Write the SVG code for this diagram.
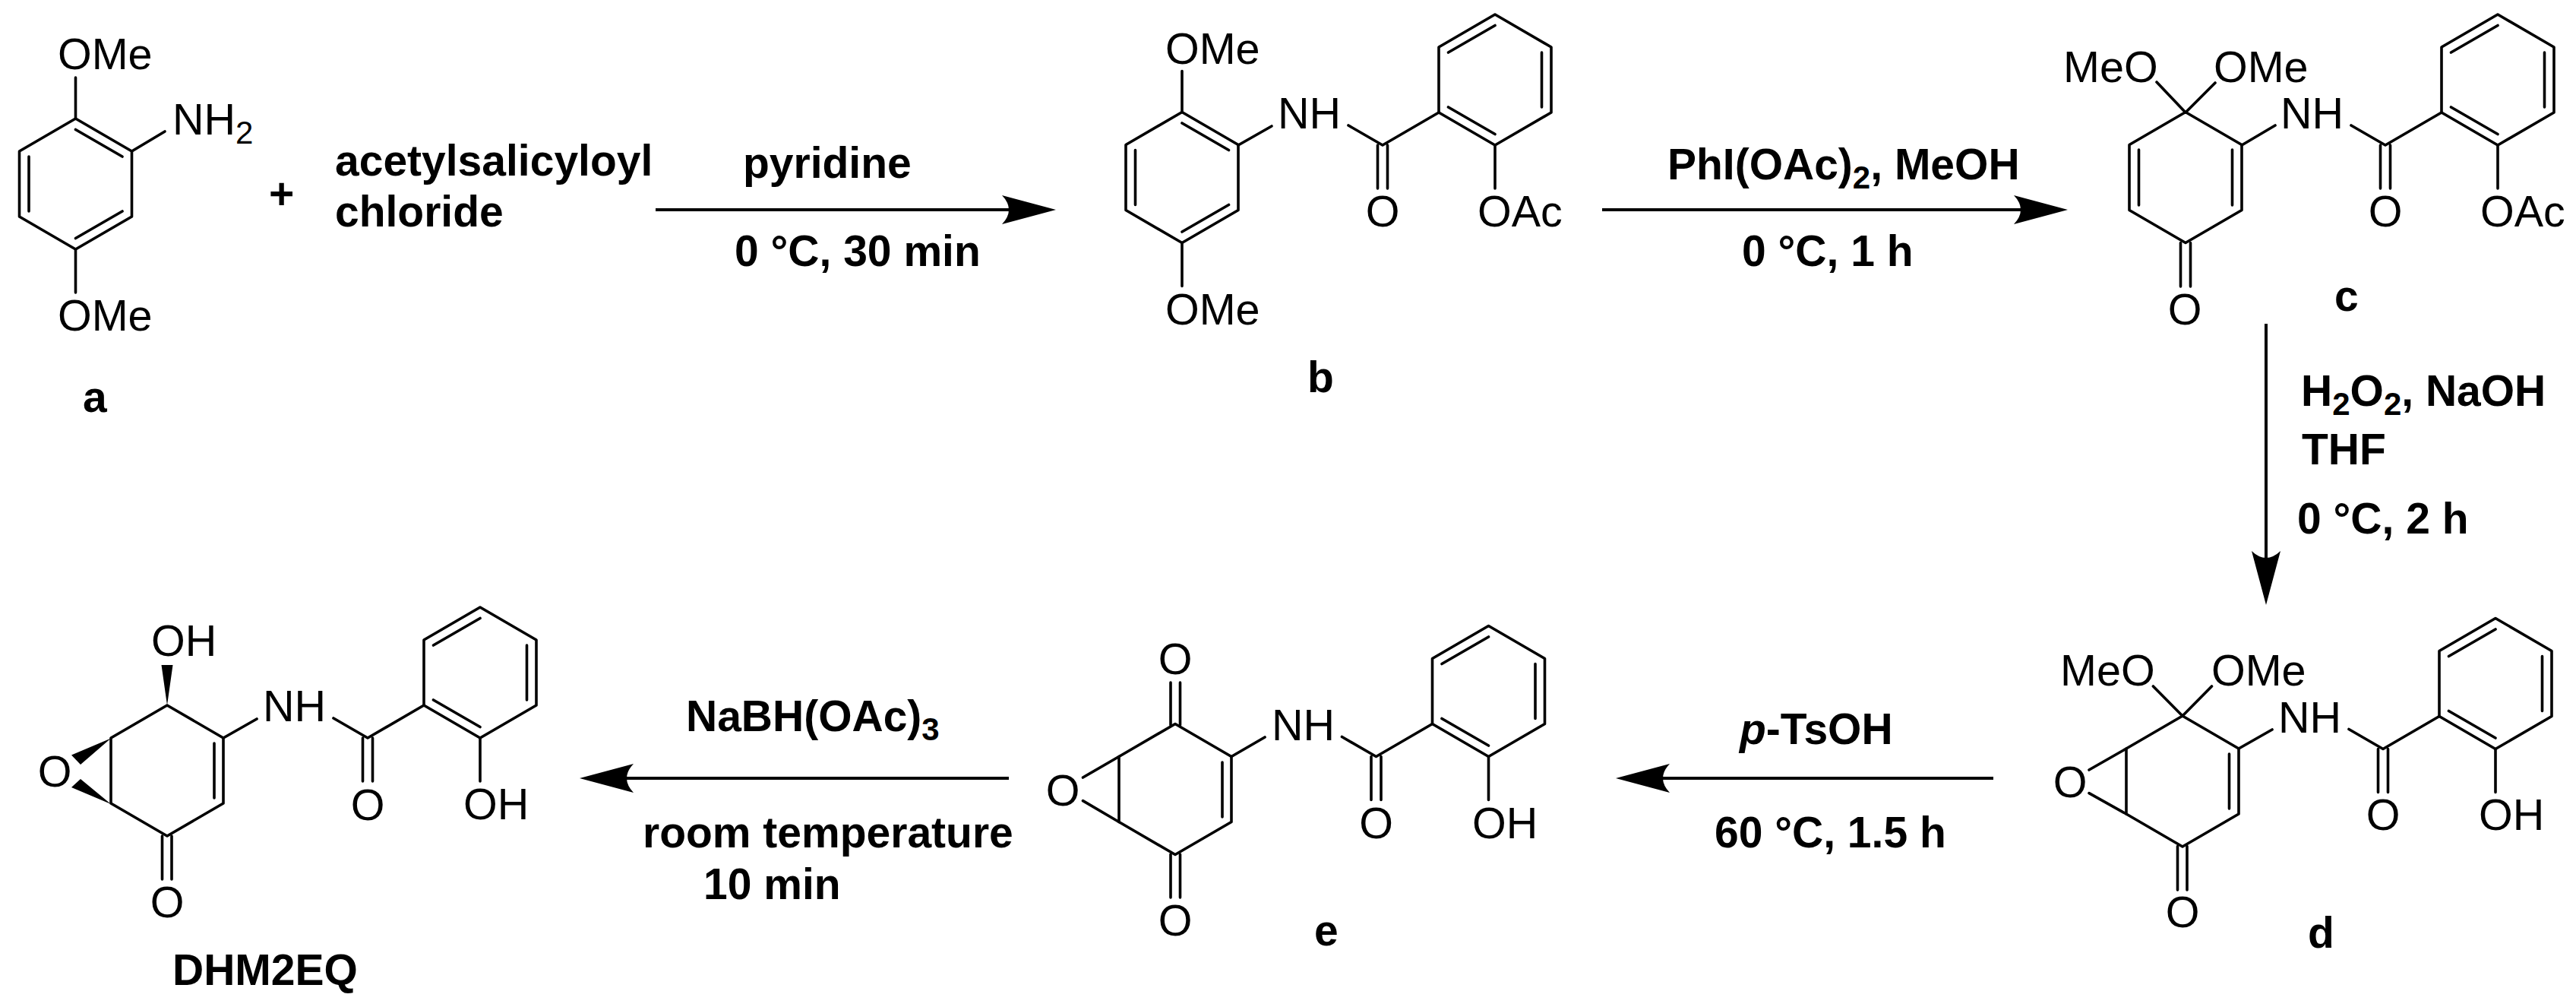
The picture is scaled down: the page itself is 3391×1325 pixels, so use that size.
<svg xmlns="http://www.w3.org/2000/svg" width="3391" height="1325" viewBox="0 0 3391 1325">
<style>
.b{fill:none;stroke:#000;stroke-width:3.6;stroke-linecap:round;stroke-linejoin:round}
.w{fill:#000;stroke:none}
.a{fill:none;stroke:#000;stroke-width:4}
text{font-family:"Liberation Sans",Arial,sans-serif;font-size:57.5px;fill:#000}
.t{font-weight:bold;font-size:57px}
.m{text-anchor:middle}
.s{font-size:42px}
</style>
<defs>
<marker id="head" markerUnits="userSpaceOnUse" markerWidth="72" markerHeight="40" viewBox="0 0 72 40" refX="14" refY="20" orient="auto"><path d="M71,20 L0,1 Q18,20 0,39 Z" fill="#000"/></marker>
<g id="hex"><path class="b" d="M0,-86 L74,-43 L74,43 L0,86 L-74,43 L-74,-43 Z"/></g>
<g id="sal"><use href="#hex"/><path class="b" d="M0,-71.5 L-61.5,-36 M61.5,-36 V36 M-61.5,36 L0,71.5 M-74,43 L-148,86 L-193,60 M-154.5,86 V143 M-141.5,86 V143 M0,86 V143"/></g>
<g id="dmb"><use href="#hex"/><path class="b" d="M0,-71.5 L61.5,-36 M-61.5,-36 V36 M61.5,36 L0,71.5 M0,-86 V-140 M0,86 V143"/></g>
</defs>
<g id="connectors">
<line class="a" x1="863" y1="276" x2="1333" y2="276" marker-end="url(#head)"/>
<line class="a" x1="2109" y1="276" x2="2665" y2="276" marker-end="url(#head)"/>
<line class="a" x1="2983" y1="426" x2="2983" y2="739" marker-end="url(#head)"/>
<line class="a" x1="2624" y1="1024" x2="2184" y2="1024" marker-end="url(#head)"/>
<line class="a" x1="1328" y1="1024" x2="820" y2="1024" marker-end="url(#head)"/>
</g>
<g id="node-a">
<use href="#dmb" x="99.5" y="242"/>
<path class="b" d="M173.5,199 L217,173"/>
<text x="76" y="91">OMe</text>
<text x="76" y="435">OMe</text>
<text x="227" y="177">NH<tspan class="s" dy="12">2</tspan></text>
<text class="t" x="109" y="542">a</text>
</g>
<g id="plus"><text class="t" x="354" y="275">+</text></g>
<g id="reagent-a"><text class="t" x="441" y="231">acetylsalicyloyl</text><text class="t" x="441" y="298">chloride</text></g>
<g id="node-b">
<use href="#dmb" x="1556" y="233.5"/>
<use href="#sal" x="1968" y="105"/>
<path class="b" d="M1630,191 L1674,166"/>
<text x="1534" y="84">OMe</text>
<text x="1534" y="427">OMe</text>
<text x="1682" y="169">NH</text>
<text class="m" x="1820" y="298">O</text>
<text x="1945" y="298">OAc</text>
<text class="t" x="1721" y="516">b</text>
</g>
<g id="label-1">
<text class="t" x="978" y="234">pyridine</text>
<text class="t" x="967" y="350">0 °C, 30 min</text>
<text class="t" x="2195" y="236">PhI(OAc)<tspan class="s t" dy="12">2</tspan><tspan dy="-12">, MeOH</tspan></text>
<text class="t" x="2293" y="350">0 °C, 1 h</text>
<text class="t" x="3029" y="534">H<tspan class="s t" dy="12">2</tspan><tspan dy="-12">O</tspan><tspan class="s t" dy="12">2</tspan><tspan dy="-12">, NaOH</tspan></text>
<text class="t" x="3030" y="611">THF</text>
<text class="t" x="3024" y="702">0 °C, 2 h</text>
</g>
<g id="node-c">
<use href="#sal" x="3288" y="105"/>
<use href="#hex" x="2877" y="233.5"/>
<path class="b" d="M2815.5,197 V270 M2938.5,197 V270 M2951,191 L2995,165 M2870.5,319.5 V377 M2883.5,319.5 V377 M2839,108 L2877,148 M2916,109 L2877,148"/>
<text x="2716" y="108">MeO</text>
<text x="2914" y="108">OMe</text>
<text x="3002" y="169">NH</text>
<text class="m" x="3140" y="298">O</text>
<text x="3265" y="298">OAc</text>
<text class="m" x="2876" y="427">O</text>
<text class="t" x="3073" y="409">c</text>
</g>
<g id="node-d">
<use href="#sal" x="3285" y="899.5"/>
<use href="#hex" x="2873" y="1028"/>
<path class="b" d="M2934.5,992 V1064 M2947,985 L2991,960 M2866.5,1113.5 V1171 M2879,1113.5 V1171 M2799,985 L2750,1013 M2799,1071 L2750,1043.6 M2834.4,903 L2873,942 M2911.5,903 L2873,942"/>
<text x="2712" y="902">MeO</text>
<text x="2911" y="902">OMe</text>
<text x="2999" y="964">NH</text>
<text class="m" x="3137" y="1092">O</text>
<text x="3263" y="1092">OH</text>
<text class="m" x="2873" y="1220">O</text>
<text class="m" x="2725" y="1049">O</text>
<text class="t" x="3038" y="1247">d</text>
</g>
<g id="label-2">
<text class="t" x="2290" y="979"><tspan font-style="italic">p</tspan>-TsOH</text>
<text class="t" x="2257" y="1115">60 °C, 1.5 h</text>
<text class="t" x="903" y="962">NaBH(OAc)<tspan class="s t" dy="12">3</tspan></text>
<text class="t" x="846" y="1115">room temperature</text>
<text class="t" x="926" y="1183">10 min</text>
</g>
<g id="node-e">
<use href="#sal" x="1959.5" y="909.5"/>
<use href="#hex" x="1547" y="1038.5"/>
<path class="b" d="M1609,1003 V1075 M1621,995.5 L1665,970 M1541,954 V898 M1553.5,954 V898 M1541,1124 V1181 M1553.5,1124 V1181 M1473,995.5 L1425.5,1023 M1473,1081.5 L1425.5,1053.6"/>
<text class="m" x="1547" y="887">O</text>
<text class="m" x="1547" y="1231">O</text>
<text class="m" x="1399" y="1060">O</text>
<text x="1674" y="974">NH</text>
<text class="m" x="1811.5" y="1103">O</text>
<text x="1938" y="1103">OH</text>
<text class="t" x="1730" y="1244">e</text>
</g>
<g id="node-DHM2EQ">
<use href="#sal" x="632" y="885"/>
<use href="#hex" x="220" y="1014"/>
<path class="b" d="M282,978 V1050 M294,971 L338,946 M213.5,1100 V1157 M226,1100 V1157"/>
<path class="w" d="M220,928 L212.5,875 H227.5 Z M146,971.5 L94,993.5 L106,1006 Z M146,1058 L94,1036 L106,1025 Z"/>
<text x="199" y="863">OH</text>
<text class="m" x="72" y="1035">O</text>
<text class="m" x="220" y="1207">O</text>
<text x="346" y="949">NH</text>
<text class="m" x="484" y="1079">O</text>
<text x="610" y="1078">OH</text>
<text class="t" x="227" y="1296">DHM2EQ</text>
</g>
</svg>
